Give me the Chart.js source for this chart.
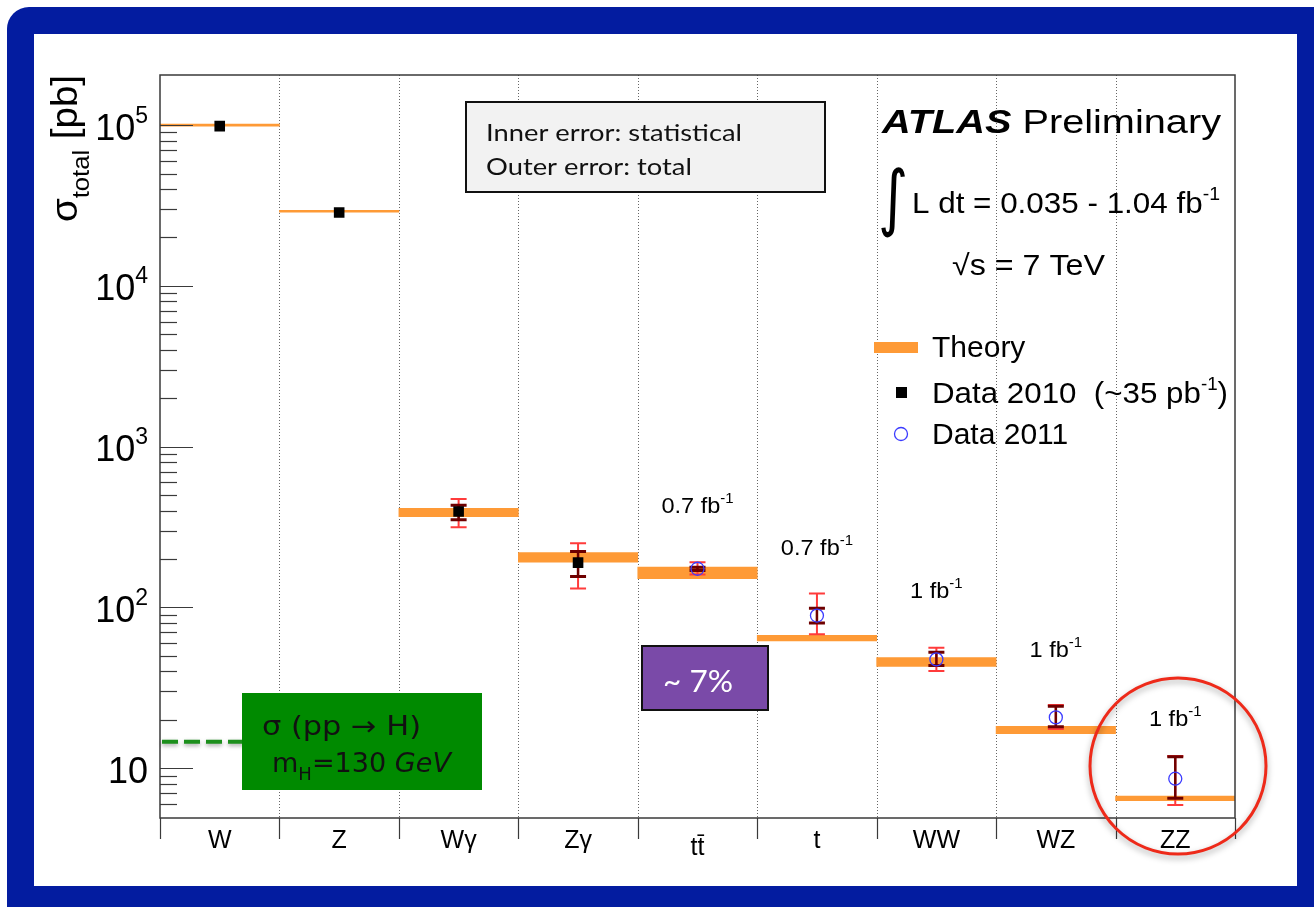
<!DOCTYPE html>
<html>
<head>
<meta charset="utf-8">
<script src="https://cdn.jsdelivr.net/npm/chart.js@4.4.1/dist/chart.umd.min.js"></script>
<style>
  html, body { margin: 0; padding: 0; background: #fff; }
  canvas { display: block; }
</style>
</head>
<body>
<canvas id="xsecChart" width="1314" height="907"></canvas>
<script>
// categories and measured / predicted cross sections [pb]
const categories = ['W', 'Z', 'Wγ', 'Zγ', 'tt̄', 't', 'WW', 'WZ', 'ZZ'];
const theoryLo = [98600, 28700, 367, 191, 151, 61.8, 43.0, 16.4, 6.27];
const theoryHi = [101400, 29500, 414, 219, 178, 67.0, 48.7, 18.2, 6.70];
const data2010 = [98500, 28600, 395, 190, null, null, null, null, null];
const data2011 = [null, null, null, null, 174, 89, 47.5, 20.7, 8.6];
// inner (statistical) and outer (total) error ranges
const statLo = [null, null, 351, 156, 170, 80, 43.5, 18.1, 6.5];
const statHi = [null, null, 432, 223, 178, 99, 52.7, 24.3, 11.8];
const totLo = [null, null, 315, 131, 160, 68, 40.2, 17.5, 5.9];
const totHi = [null, null, 473, 251, 191, 122, 56.2, 24.7, 11.9];
const lumiLabels = [null, null, null, null, '0.7', '0.7', '1', '1', '1'];
const higgsXsec = 14.6;
// y axis labels
const yTickValues = [10, 100, 1000, 10000, 100000];
const yTickSups = ['', '2', '3', '4', '5'];

const SANS = '"Liberation Sans", Arial, sans-serif';
const ORANGE = '#fe9a36';

// draw text made of several pieces (sup/subscripts), optionally stretched to a width
function rich(ctx, segs, x, y, opts) {
    opts = opts || {};
    ctx.save();
    ctx.textAlign = 'left';
    ctx.textBaseline = 'alphabetic';
    let w = 0;
    segs.forEach(s => { ctx.font = s.f; w += ctx.measureText(s.t).width; });
    const sx = opts.w ? opts.w / w : (opts.sx || 1);
    let x0 = x;
    if (opts.align === 'center') x0 = x - w * sx / 2;
    if (opts.align === 'right') x0 = x - w * sx;
    ctx.translate(x0, y);
    if (opts.rot) ctx.rotate(opts.rot);
    ctx.scale(sx, opts.sy || 1);
    let cx = 0;
    segs.forEach(s => {
        ctx.font = s.f;
        ctx.fillStyle = s.c || opts.color || '#000';
        ctx.fillText(s.t, cx, s.dy || 0);
        cx += ctx.measureText(s.t).width;
    });
    ctx.restore();
}

const atlasPlugin = {
    id: 'atlas',
    beforeDraw(chart) {
        const ctx = chart.ctx;
        ctx.save();
        ctx.fillStyle = '#fff';
        ctx.fillRect(0, 0, chart.width, chart.height);
        ctx.fillStyle = '#031ca0';
        ctx.beginPath();
        ctx.roundRect(7, 7, 1340, 940, 22);
        ctx.fill();
        ctx.fillStyle = '#fff';
        ctx.fillRect(34, 34, 1263, 852);
        ctx.restore();
    },
    beforeDatasetsDraw(chart) {
        const ctx = chart.ctx;
        const area = chart.chartArea;
        const x = chart.scales.x;
        ctx.save();
        ctx.strokeStyle = '#666';
        ctx.lineWidth = 1;
        ctx.setLineDash([1, 2]);
        for (let i = 1; i < categories.length; i++) {
            const px = Math.round((x.getPixelForValue(i - 1) + x.getPixelForValue(i)) / 2) + 0.5;
            ctx.beginPath();
            ctx.moveTo(px, area.top);
            ctx.lineTo(px, area.bottom);
            ctx.stroke();
        }
        ctx.restore();
    },
    afterDatasetDraw(chart, args) {
        if (args.index !== 0) return;
        const ctx = chart.ctx;
        const x = chart.scales.x;
        const y = chart.scales.y;
        ctx.save();
        categories.forEach((c, i) => {
            if (totLo[i] == null) return;
            const px = x.getPixelForValue(i);
            const bars = [
                [totLo[i], totHi[i], '#ff3b3b', 2, 2],
                [statLo[i], statHi[i], '#6e0000', 2.5, 3]
            ];
            bars.forEach(([lo, hi, col, lw, cw]) => {
                const y1 = y.getPixelForValue(lo);
                const y2 = y.getPixelForValue(hi);
                ctx.strokeStyle = col;
                ctx.lineWidth = lw;
                ctx.beginPath();
                ctx.moveTo(px, y1);
                ctx.lineTo(px, y2);
                ctx.stroke();
                ctx.lineWidth = cw;
                ctx.beginPath();
                ctx.moveTo(px - 8, y1);
                ctx.lineTo(px + 8, y1);
                ctx.moveTo(px - 8, y2);
                ctx.lineTo(px + 8, y2);
                ctx.stroke();
            });
        });
        ctx.restore();
    },
    afterDraw(chart) {
        const ctx = chart.ctx;
        const area = chart.chartArea;
        const x = chart.scales.x;
        const y = chart.scales.y;
        ctx.save();

        // frame
        ctx.strokeStyle = '#3a3a3a';
        ctx.lineWidth = 1.5;
        ctx.strokeRect(area.left, area.top, area.right - area.left, area.bottom - area.top);

        // y ticks
        ctx.lineWidth = 1.2;
        for (let e = 0; e <= 5; e++) {
            for (let d = 1; d <= 9; d++) {
                const v = d * Math.pow(10, e);
                const py = y.getPixelForValue(v);
                if (py < area.top + 3 || py > area.bottom - 3) continue;
                ctx.beginPath();
                ctx.moveTo(area.left, Math.round(py) + 0.5);
                ctx.lineTo(area.left + (d === 1 ? 33 : 17), Math.round(py) + 0.5);
                ctx.stroke();
            }
        }
        yTickValues.forEach((v, i) => {
            const py = y.getPixelForValue(v);
            const segs = [{t: '10', f: '36px ' + SANS}];
            if (yTickSups[i]) segs.push({t: yTickSups[i], f: '23px ' + SANS, dy: -17});
            rich(ctx, segs, 148, py + 14.5, {align: 'right'});
        });

        // x tick marks and labels
        for (let i = 0; i <= categories.length; i++) {
            let px;
            if (i === 0) px = area.left;
            else if (i === categories.length) px = area.right;
            else px = (x.getPixelForValue(i - 1) + x.getPixelForValue(i)) / 2;
            px = Math.round(px) + 0.5;
            ctx.beginPath();
            ctx.moveTo(px, area.bottom);
            ctx.lineTo(px, area.bottom + 21);
            ctx.stroke();
        }
        categories.forEach((c, i) => {
            const px = x.getPixelForValue(i);
            rich(ctx, [{t: c, f: '25px ' + SANS}], px, c === 'tt̄' ? 855 : 848, {align: 'center'});
        });

        // y axis title
        rich(ctx, [
            {t: 'σ', f: '36px ' + SANS},
            {t: 'total', f: '24px ' + SANS, dy: 12},
            {t: ' [pb]', f: '36px ' + SANS}
        ], 77, 222, {rot: -Math.PI / 2, w: 147});

        // higgs reference line
        const hy = y.getPixelForValue(higgsXsec);
        ctx.save();
        ctx.strokeStyle = '#1c8f1c';
        ctx.lineWidth = 4;
        ctx.setLineDash([16, 6]);
        ctx.shadowColor = 'rgba(0,0,0,0.35)';
        ctx.shadowBlur = 4;
        ctx.shadowOffsetY = 2;
        ctx.beginPath();
        ctx.moveTo(area.left + 2, hy);
        ctx.lineTo(x.getPixelForValue(0.5) - 6, hy);
        ctx.stroke();
        ctx.restore();

        ctx.fillStyle = '#008a00';
        ctx.fillRect(242, 693, 240, 97);
        rich(ctx, [{t: 'σ (pp → H)', f: '27px "DejaVu Sans", sans-serif'}], 262, 735, {w: 159, color: '#111'});
        rich(ctx, [
            {t: 'm', f: '27px "DejaVu Sans", sans-serif'},
            {t: 'H', f: '18px "DejaVu Sans", sans-serif', dy: 8},
            {t: '=130 ', f: '27px "DejaVu Sans", sans-serif'},
            {t: 'GeV', f: 'italic 27px "DejaVu Sans", sans-serif'}
        ], 272, 772, {w: 179, color: '#111'});

        // ~7% box
        ctx.fillStyle = '#7a4aa8';
        ctx.fillRect(642, 646, 126, 64);
        ctx.strokeStyle = '#111';
        ctx.lineWidth = 2;
        ctx.strokeRect(642, 646, 126, 64);
        rich(ctx, [{t: '~ 7%', f: '30px Lato, sans-serif'}], 663, 692, {w: 70, color: '#fff'});

        // error legend box
        ctx.fillStyle = '#f2f2f2';
        ctx.fillRect(466, 102, 359, 90);
        ctx.strokeStyle = '#111';
        ctx.lineWidth = 2;
        ctx.strokeRect(466, 102, 359, 90);
        ctx.font = '24px Lato, sans-serif';
        const boxSx = 256 / ctx.measureText('Inner error: statistical').width;
        rich(ctx, [{t: 'Inner error: statistical', f: '24px Lato, sans-serif'}], 486, 141, {sx: boxSx, color: '#111'});
        rich(ctx, [{t: 'Outer error: total', f: '24px Lato, sans-serif'}], 486, 175, {sx: boxSx, color: '#111'});

        // ATLAS label
        rich(ctx, [
            {t: 'ATLAS', f: 'italic bold 34px ' + SANS},
            {t: ' Preliminary', f: '34px ' + SANS}
        ], 882, 133, {w: 339});
        rich(ctx, [{t: '∫', f: '58px "DejaVu Sans", sans-serif'}], 878, 222, {sy: 1.25});
        rich(ctx, [
            {t: 'L dt = 0.035 - 1.04 fb', f: '29px ' + SANS},
            {t: '-1', f: '18px ' + SANS, dy: -13}
        ], 912, 213, {w: 308});
        rich(ctx, [{t: '√s = 7 TeV', f: '29px ' + SANS}], 952, 275, {w: 153});

        // legend
        ctx.fillStyle = ORANGE;
        ctx.fillRect(874, 342, 44, 11);
        ctx.fillStyle = '#000';
        ctx.fillRect(896, 387, 11, 11);
        ctx.strokeStyle = '#3b3bff';
        ctx.lineWidth = 1.3;
        ctx.beginPath();
        ctx.arc(901, 434, 6.5, 0, Math.PI * 2);
        ctx.stroke();
        rich(ctx, [{t: 'Theory', f: '30px ' + SANS}], 932, 357);
        rich(ctx, [
            {t: 'Data 2010  (~35 pb', f: '30px ' + SANS},
            {t: '-1', f: '18px ' + SANS, dy: -13},
            {t: ')', f: '30px ' + SANS}
        ], 932, 403, {w: 296});
        rich(ctx, [{t: 'Data 2011', f: '30px ' + SANS}], 932, 444);

        // luminosity per channel
        const lumiY = [0, 0, 0, 0, 513, 555, 598, 657, 726];
        lumiLabels.forEach((l, i) => {
            if (!l) return;
            rich(ctx, [
                {t: l + ' fb', f: '22px ' + SANS},
                {t: '-1', f: '14px ' + SANS, dy: -10}
            ], x.getPixelForValue(i), lumiY[i], {align: 'center', sx: 1.07});
        });

        // highlight circle around ZZ
        ctx.save();
        ctx.strokeStyle = '#ee2a1a';
        ctx.lineWidth = 3;
        ctx.shadowColor = 'rgba(0,0,0,0.35)';
        ctx.shadowBlur = 6;
        ctx.shadowOffsetY = 3;
        ctx.beginPath();
        ctx.arc(1178, 766, 88, 0, Math.PI * 2);
        ctx.stroke();
        ctx.restore();

        ctx.restore();
    }
};

const ctx = document.getElementById('xsecChart').getContext('2d');
const xsecChart = new Chart(ctx, {
    type: 'bar',
    data: {
        labels: categories,
        datasets: [
            {
                label: 'Theory',
                data: categories.map((c, i) => [theoryLo[i], theoryHi[i]]),
                backgroundColor: ORANGE,
                borderWidth: 0,
                categoryPercentage: 1,
                barPercentage: 1,
                order: 3
            },
            {
                type: 'line',
                label: 'Data 2010',
                data: data2010,
                showLine: false,
                pointStyle: 'rect',
                pointRadius: 7.5,
                pointBackgroundColor: '#000',
                pointBorderColor: '#000',
                pointBorderWidth: 0,
                order: 1
            },
            {
                type: 'line',
                label: 'Data 2011',
                data: data2011,
                showLine: false,
                pointStyle: 'circle',
                pointRadius: 6.5,
                pointBackgroundColor: 'rgba(255,255,255,0)',
                pointBorderColor: '#3b3bff',
                pointBorderWidth: 1.3,
                order: 0
            }
        ]
    },
    options: {
        responsive: false,
        animation: false,
        devicePixelRatio: 1,
        layout: { padding: { left: 160, right: 79, top: 75, bottom: 89 } },
        plugins: {
            legend: { display: false },
            tooltip: { enabled: false }
        },
        scales: {
            x: { display: false, offset: true },
            y: { type: 'logarithmic', display: false, min: 4.9, max: 205000 }
        }
    },
    plugins: [atlasPlugin]
});
</script>
</body>
</html>
